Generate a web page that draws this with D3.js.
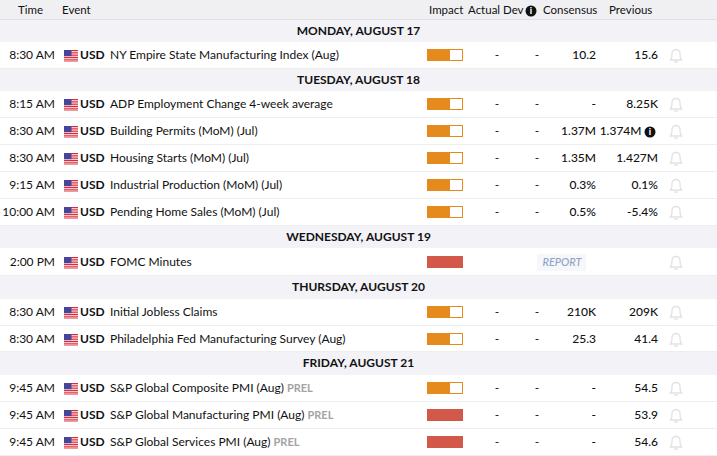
<!DOCTYPE html>
<html>
<head>
<meta charset="utf-8">
<script src="https://cdn.jsdelivr.net/npm/d3@7"></script>
<style>
  html, body { margin: 0; padding: 0; background: #fff; }
  svg { display: block; font-family: Lato, sans-serif; font-size: 12px; fill: #111; }
</style>
</head>
<body>
<div class="chart"></div>
<script>
const dayLabels = ['MONDAY, AUGUST 17', 'TUESDAY, AUGUST 18', 'WEDNESDAY, AUGUST 19', 'THURSDAY, AUGUST 20', 'FRIDAY, AUGUST 21'];
const dayIndex = [0, 1, 1, 1, 1, 1, 2, 3, 3, 4, 4, 4];
const times = ['8:30 AM', '8:15 AM', '8:30 AM', '8:30 AM', '9:15 AM', '10:00 AM', '2:00 PM', '8:30 AM', '8:30 AM', '9:45 AM', '9:45 AM', '9:45 AM'];
const events = [
  'NY Empire State Manufacturing Index (Aug)',
  'ADP Employment Change 4-week average',
  'Building Permits (MoM) (Jul)',
  'Housing Starts (MoM) (Jul)',
  'Industrial Production (MoM) (Jul)',
  'Pending Home Sales (MoM) (Jul)',
  'FOMC Minutes',
  'Initial Jobless Claims',
  'Philadelphia Fed Manufacturing Survey (Aug)',
  'S&P Global Composite PMI (Aug)',
  'S&P Global Manufacturing PMI (Aug)',
  'S&P Global Services PMI (Aug)'
];
const impact = [2, 2, 2, 2, 2, 2, 3, 2, 2, 2, 3, 3];
const actual = ['-', '-', '-', '-', '-', '-', '', '-', '-', '-', '-', '-'];
const dev = ['-', '-', '-', '-', '-', '-', '', '-', '-', '-', '-', '-'];
const consensus = ['10.2', '-', '1.37M', '1.35M', '0.3%', '0.5%', '', '210K', '25.3', '-', '-', '-'];
const previous = ['15.6', '8.25K', '1.374M', '1.427M', '0.1%', '-5.4%', '', '209K', '41.4', '54.5', '53.9', '54.6'];
const prelim = [false, false, false, false, false, false, false, false, false, true, true, true];
const revised = [false, false, true, false, false, false, false, false, false, false, false, false];
const headers = ['Time', 'Event', 'Impact', 'Actual', 'Dev', 'Consensus', 'Previous'];
const headerX = [18, 62, 429, 468, 503, 543, 609];

const FULL_WIDTH = 717;
const FULL_HEIGHT = 456;
const HEADER = 20;
const ORANGE = '#e58a1d';
const RED = '#d2584a';
// the table's rows are not quite even in the original
const bandHeights = [22, 22, 22, 23, 23];
const rowHeight = i => i === 6 ? 28 : i === 8 ? 26 : 27;

const svg = d3.select('.chart')
  .append('svg')
    .attr('width', FULL_WIDTH)
    .attr('height', FULL_HEIGHT);

// work out row tops from the order of days and rows
let cursor = HEADER;
const bands = [];
const rows = times.map((t, i) => {
  if (i === 0 || dayIndex[i] !== dayIndex[i - 1]) {
    const h = bandHeights[dayIndex[i]];
    bands.push({label: dayLabels[dayIndex[i]], y: cursor, h});
    cursor += h;
  }
  const top = cursor;
  const h = rowHeight(i);
  cursor += h;
  return {i, top, h, mid: top + Math.floor(h / 2)};
});

svg.append('rect')
    .attr('width', FULL_WIDTH)
    .attr('height', HEADER)
    .attr('fill', '#f0f0f3');
svg.append('line')
    .attr('x1', 0).attr('x2', FULL_WIDTH)
    .attr('y1', 19.5).attr('y2', 19.5)
    .attr('stroke', '#dfdfe4');

svg.selectAll('.head')
  .data(headers)
  .join('text')
    .attr('class', 'head')
    .attr('x', (d, i) => headerX[i])
    .attr('y', 10)
    .attr('dy', '0.35em')
    .attr('font-size', 11.5)
    .text(d => d);

function infoIcon (sel, x, y) {
  const g = sel.append('g').attr('transform', `translate(${x}, ${y})`);
  g.append('circle').attr('r', 5.5).attr('fill', '#111');
  g.append('text')
      .attr('text-anchor', 'middle')
      .attr('y', 3.2)
      .attr('font-size', 9)
      .attr('font-weight', 900)
      .attr('fill', '#fff')
      .text('i');
}
infoIcon(svg, 531, 11);

svg.selectAll('.band')
  .data(bands)
  .join('g')
    .attr('class', 'band')
    .attr('transform', d => `translate(0, ${d.y})`)
    .call(g => g.append('rect')
      .attr('width', FULL_WIDTH)
      .attr('height', d => d.h)
      .attr('fill', '#f2f2f7'))
    .call(g => g.append('text')
      .attr('x', FULL_WIDTH / 2)
      .attr('y', d => d.h / 2 - 0.5)
      .attr('dy', '0.35em')
      .attr('text-anchor', 'middle')
      .attr('font-weight', 700)
      .attr('font-size', 12)
      .text(d => d.label));

const row = svg.selectAll('.row')
  .data(rows)
  .join('g')
    .attr('class', 'row')
    .attr('transform', d => `translate(0, ${d.mid})`);

row.append('line')
    .attr('x1', 0).attr('x2', FULL_WIDTH)
    .attr('y1', d => d.top + d.h - d.mid - 0.5)
    .attr('y2', d => d.top + d.h - d.mid - 0.5)
    .attr('stroke', '#eeeeee');

row.append('text')
    .attr('x', 55)
    .attr('dy', '0.35em')
    .attr('text-anchor', 'end')
    .text(d => times[d.i]);

// flag
const flagStripes = d3.range(7);
const flag = row.append('g').attr('transform', 'translate(64, -5)');
flag.append('rect').attr('width', 14).attr('height', 11.5).attr('fill', '#fff');
flag.selectAll('.stripe')
  .data(flagStripes)
  .join('rect')
    .attr('class', 'stripe')
    .attr('y', s => s * 1.75)
    .attr('width', 14)
    .attr('height', 0.95)
    .attr('fill', '#d8202f');
flag.append('rect').attr('width', 7.5).attr('height', 6.2).attr('fill', '#45459b');

row.append('text')
    .attr('x', 80)
    .attr('dy', '0.35em')
    .attr('font-weight', 700)
    .text('USD');

const eventText = row.append('text')
    .attr('x', 110)
    .attr('dy', '0.35em')
    .text(d => events[d.i]);
eventText.filter(d => prelim[d.i])
  .append('tspan')
    .attr('dx', 3)
    .attr('font-weight', 700)
    .attr('font-size', 11)
    .attr('fill', '#a3a3a3')
    .text('PREL');

// impact meter, out of three
const impactScale = d3.scaleLinear().domain([0, 3]).range([0, 36]);
row.append('rect')
    .attr('x', 427.5)
    .attr('y', -5.5)
    .attr('width', impactScale(3) - 1)
    .attr('height', 11)
    .attr('fill', '#fff')
    .attr('stroke', d => impact[d.i] === 3 ? RED : ORANGE);
row.append('rect')
    .attr('x', 427)
    .attr('y', -6)
    .attr('width', d => impactScale(impact[d.i]) - (impact[d.i] === 2 ? 1 : 0))
    .attr('height', 12)
    .attr('fill', d => impact[d.i] === 3 ? RED : ORANGE);

row.append('text').attr('x', 497).attr('dy', '0.35em').attr('text-anchor', 'middle').text(d => actual[d.i]);
row.append('text').attr('x', 537).attr('dy', '0.35em').attr('text-anchor', 'middle').text(d => dev[d.i]);
row.append('text').attr('x', 596).attr('dy', '0.35em').attr('text-anchor', 'end').attr('font-weight', 500).text(d => consensus[d.i]);
row.append('text').attr('x', d => revised[d.i] ? 641.5 : 658).attr('dy', '0.35em').attr('text-anchor', 'end').attr('font-weight', 500).text(d => previous[d.i]);

row.filter(d => revised[d.i]).each(function () { infoIcon(d3.select(this), 650, 1); });

// report tag on rows with no figures
const report = row.filter(d => consensus[d.i] === '');
report.append('rect')
    .attr('x', 537).attr('y', -8).attr('width', 49).attr('height', 17)
    .attr('fill', '#f6f7fa');
report.append('text')
    .attr('x', 562)
    .attr('dy', '0.35em')
    .attr('text-anchor', 'middle')
    .attr('font-size', 11)
    .attr('font-style', 'italic')
    .attr('font-weight', 500)
    .attr('fill', '#8fa3c4')
    .text('REPORT');

// bell
row.append('path')
    .attr('transform', 'translate(676, 0)')
    .attr('d', 'M-5.5 5 C-3.8 3 -4 1 -4 -1.5 C-4 -4 -2.5 -5.5 0 -5.5 C2.5 -5.5 4 -4 4 -1.5 C4 1 3.8 3 5.5 5 Z M-1.8 7 L1.8 7 M0 -5.5 L0 -6.5')
    .attr('fill', 'none')
    .attr('stroke', '#e2e2e2')
    .attr('stroke-width', 1.3);
</script>
</body>
</html>
